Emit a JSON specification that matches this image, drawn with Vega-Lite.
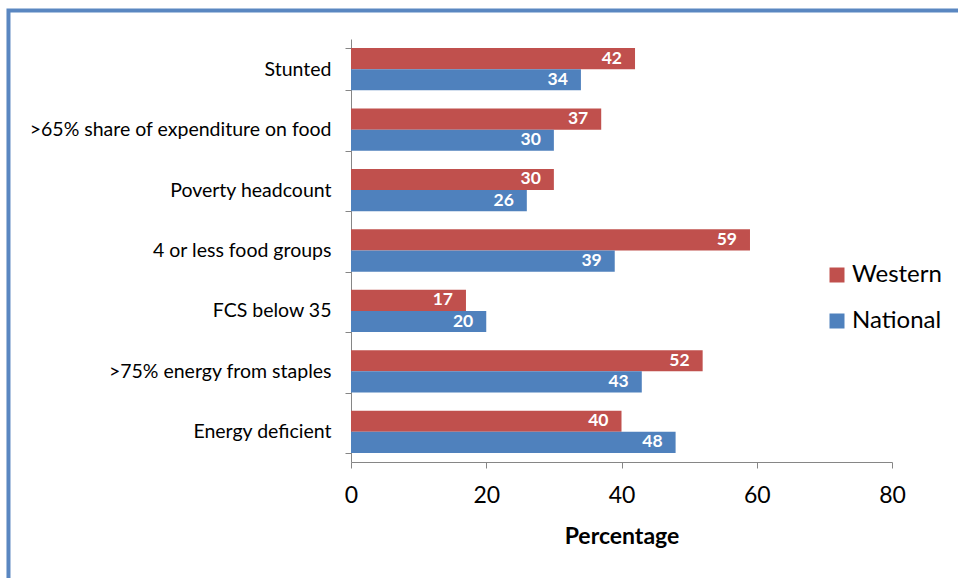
{
  "$schema": "https://vega.github.io/schema/vega-lite/v6.json",
  "width": 541,
  "height": 423,
  "autosize": {"type": "none"},
  "padding": {"left": 351, "top": 39, "right": 66, "bottom": 116},
  "background": "white",
  "config": {
    "view": {"stroke": null},
    "font": "Lato"
  },
  "layer": [
    {
      "description": "Blue frame around the chart",
      "data": {"values": [{}]},
      "mark": {"type": "rect", "fillOpacity": 0, "stroke": "#5a87c1", "strokeWidth": 4, "clip": false},
      "encoding": {
        "x": {"datum": -50.65, "type": "quantitative"},
        "x2": {"datum": 200},
        "y": {"datum": 1.0674, "type": "quantitative", "scale": {"domain": [0, 1], "nice": false, "zero": false}, "axis": null},
        "y2": {"datum": -1.5}
      }
    },
    {
      "data": {
        "values": [
          {"indicator": "Stunted", "region": "Western", "pct": 42},
          {"indicator": "Stunted", "region": "National", "pct": 34},
          {"indicator": ">65% share of expenditure on food", "region": "Western", "pct": 37},
          {"indicator": ">65% share of expenditure on food", "region": "National", "pct": 30},
          {"indicator": "Poverty headcount", "region": "Western", "pct": 30},
          {"indicator": "Poverty headcount", "region": "National", "pct": 26},
          {"indicator": "4 or less food groups", "region": "Western", "pct": 59},
          {"indicator": "4 or less food groups", "region": "National", "pct": 39},
          {"indicator": "FCS below 35", "region": "Western", "pct": 17},
          {"indicator": "FCS below 35", "region": "National", "pct": 20},
          {"indicator": ">75% energy from staples", "region": "Western", "pct": 52},
          {"indicator": ">75% energy from staples", "region": "National", "pct": 43},
          {"indicator": "Energy deficient", "region": "Western", "pct": 40},
          {"indicator": "Energy deficient", "region": "National", "pct": 48}
        ]
      },
      "encoding": {
        "y": {
          "field": "indicator",
          "type": "nominal",
          "sort": null,
          "scale": {"paddingInner": 0.3, "paddingOuter": 0.15},
          "axis": {
            "title": null,
            "domainColor": "#868686",
            "tickColor": "#868686",
            "tickBand": "extent",
            "tickSize": 6,
            "labelFontSize": 19.5,
            "labelColor": "black",
            "labelPadding": 14,
            "labelLimit": 400
          }
        },
        "yOffset": {
          "field": "region",
          "type": "nominal",
          "scale": {"domain": ["Western", "National"], "paddingInner": 0, "paddingOuter": 0}
        },
        "x": {
          "field": "pct",
          "type": "quantitative",
          "scale": {"domain": [0, 80]},
          "axis": {
            "title": "Percentage",
            "values": [0, 20, 40, 60, 80],
            "grid": false,
            "labelFlush": false,
            "domainColor": "#868686",
            "tickColor": "#868686",
            "tickSize": 6,
            "labelFontSize": 23,
            "labelColor": "black",
            "labelPadding": 16,
            "titleFontSize": 23,
            "titleFontWeight": "bold",
            "titleColor": "black",
            "titlePadding": 18
          }
        }
      },
      "layer": [
        {
          "mark": {"type": "bar"},
          "encoding": {
            "color": {
              "field": "region",
              "type": "nominal",
              "scale": {"domain": ["Western", "National"], "range": ["#c0504d", "#4f81bd"]},
              "legend": {
                "title": null,
                "orient": "none",
                "legendX": 474,
                "legendY": 224,
                "symbolType": "square",
                "symbolSize": 225,
                "symbolStrokeWidth": 0,
                "labelFontSize": 24,
                "labelColor": "black",
                "rowPadding": 22,
                "labelOffset": 3
              }
            }
          }
        },
        {
          "mark": {"type": "text", "align": "right", "baseline": "middle", "dx": -13, "color": "white", "fontWeight": "bold", "fontSize": 17.5},
          "encoding": {
            "text": {"field": "pct", "type": "quantitative"}
          }
        }
      ]
    }
  ],
  "resolve": {"scale": {"y": "independent"}}
}
